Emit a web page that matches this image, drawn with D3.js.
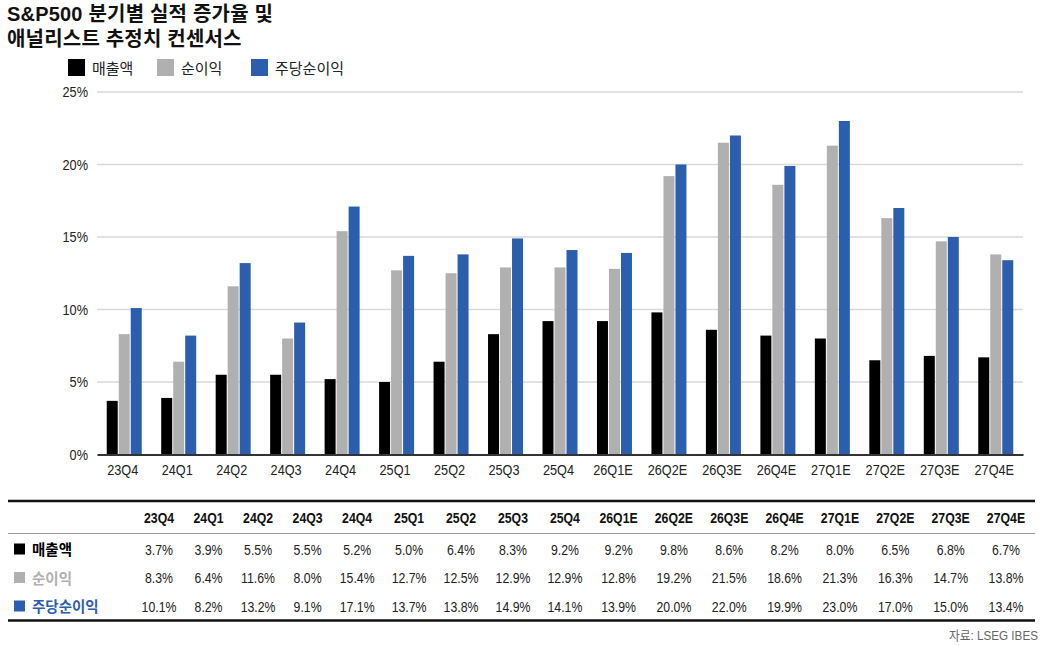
<!DOCTYPE html>
<html><head><meta charset="utf-8">
<script src="https://cdn.jsdelivr.net/npm/d3@7"></script>
<style>
body{margin:0;background:#fff;}
svg text{font-family:"Liberation Sans","Noto Sans CJK KR",sans-serif;}
</style></head>
<body><svg id="c" width="1044" height="645"></svg>
<script>
const titleLines = ["S&P500 분기별 실적 증가율 및", "애널리스트 추정치 컨센서스"];
const categories = ["23Q4","24Q1","24Q2","24Q3","24Q4","25Q1","25Q2","25Q3","25Q4","26Q1E","26Q2E","26Q3E","26Q4E","27Q1E","27Q2E","27Q3E","27Q4E"];
const seriesNames = ["매출액","순이익","주당순이익"];
const seriesColors = ["#000000","#b0b0b0","#2b5ead"];
const revenue = [3.7,3.9,5.5,5.5,5.2,5.0,6.4,8.3,9.2,9.2,9.8,8.6,8.2,8.0,6.5,6.8,6.7];
const netIncome = [8.3,6.4,11.6,8.0,15.4,12.7,12.5,12.9,12.9,12.8,19.2,21.5,18.6,21.3,16.3,14.7,13.8];
const eps = [10.1,8.2,13.2,9.1,17.1,13.7,13.8,14.9,14.1,13.9,20.0,22.0,19.9,23.0,17.0,15.0,13.4];
const yTicks = [0,5,10,15,20,25];
const sourceText = "자료: LSEG IBES";

const series = [revenue, netIncome, eps];
const svg = d3.select("#c");
const K = 0.82; // horizontal condensing of latin text

// condense text horizontally around its anchor point
function condense(sel, k){
  sel.each(function(){
    const t = d3.select(this);
    const x = +t.attr("x") || 0, y = +t.attr("y") || 0;
    t.attr("x",0).attr("y",0).attr("transform",`translate(${x},${y}) scale(${k},1)`);
  });
}

// Title
svg.append("g").selectAll("text").data(titleLines).join("text")
  .attr("x", 7).attr("y", (d,i)=>21 + i*25)
  .attr("font-size", 20).attr("font-weight", "bold").attr("fill", "#111")
  .attr("letter-spacing", 0.2)
  .text(d=>d);

// Legend
const legendX = [68, 157, 251];
const lg = svg.append("g").selectAll("g").data(seriesNames).join("g")
  .attr("transform", (d,i)=>`translate(${legendX[i]},59)`);
lg.append("rect").attr("width",17).attr("height",17).attr("fill",(d,i)=>seriesColors[i]);
lg.append("text").attr("x",24).attr("y",14.5).attr("font-size",15).attr("fill","#222").text(d=>d);

// Scales
const x = d3.scaleBand().domain(categories).range([97,1023]).paddingInner(0).paddingOuter(0);
const y = d3.scaleLinear().domain([0,25]).range([454.5,92]);
const barW = 11, barGap = 1;
const groupW = 3*barW + 2*barGap;

// Grid
svg.append("g").selectAll("line").data(yTicks.filter(t=>t>0)).join("line")
  .attr("x1",97).attr("x2",1023).attr("y1",d=>y(d)).attr("y2",d=>y(d))
  .attr("stroke","#d9d9d9").attr("stroke-width",1.5);

// Y axis labels
const yAxis = d3.axisLeft(y).tickValues(yTicks).tickFormat(d=>d+"%").tickSize(0).tickPadding(9);
const ya = svg.append("g").attr("transform","translate(97,0)").call(yAxis);
ya.select(".domain").remove();
ya.selectAll("text").attr("font-size",14.5).attr("fill","#222").style("font-family",null)
  .attr("transform",`scale(0.88,1)`).attr("x",-9/0.88);

// Bars
const groups = svg.append("g").selectAll("g").data(categories).join("g")
  .attr("transform", d=>`translate(${x(d)+x.bandwidth()/2-groupW/2},0)`);
groups.selectAll("rect").data((d,ci)=>series.map((s,si)=>({v:s[ci],si}))).join("rect")
  .attr("x", d=>d.si*(barW+barGap)).attr("width", barW)
  .attr("y", d=>y(d.v)).attr("height", d=>y(0)-y(d.v))
  .attr("fill", d=>seriesColors[d.si]);

// X axis
const xAxis = d3.axisBottom(x).tickSize(0).tickPadding(10);
const xa = svg.append("g").attr("transform",`translate(0,${y(0)})`).call(xAxis);
xa.select(".domain").attr("stroke","#333").attr("stroke-width",2);
xa.selectAll("text").attr("font-size",15.5).attr("fill","#222").style("font-family",null)
  .attr("transform",`translate(-1.5,0) scale(${K},1)`);

// Table
const tbl = svg.append("g");
const tmp = tbl.append("text").attr("font-size",15);
function tw(s, bold){ tmp.attr("font-weight", bold?"bold":"normal").text(s); return tmp.node().getComputedTextLength()*K; }
const contentW = categories.map((c,i)=>Math.max(tw(c,true), ...series.map(s=>tw(s[i].toFixed(1)+"%",false))));
tmp.remove();
const pad = 17;
let acc = 0; const rawC = contentW.map(w=>{ const c = acc + w/2; acc += w + pad; return c; });
const colX = d3.scaleLinear().domain([rawC[0], rawC[rawC.length-1]]).range([159,1006]);

tbl.append("line").attr("x1",8).attr("x2",1035).attr("y1",501).attr("y2",501).attr("stroke","#111").attr("stroke-width",2.5);
tbl.append("line").attr("x1",8).attr("x2",1035).attr("y1",533.5).attr("y2",533.5).attr("stroke","#999").attr("stroke-width",1.2);
tbl.append("line").attr("x1",8).attr("x2",1035).attr("y1",620.5).attr("y2",620.5).attr("stroke","#111").attr("stroke-width",2.5);

tbl.append("g").selectAll("text").data(categories).join("text")
  .attr("x",(d,i)=>colX(rawC[i])).attr("y",523).attr("text-anchor","middle")
  .attr("font-size",15).attr("font-weight","bold").attr("fill","#111").text(d=>d)
  .call(condense, K);

const rowY = [549, 577.5, 606];
const rowColors = ["#000000","#b0b0b0","#2b5ead"];
const rows = tbl.append("g").selectAll("g").data(series).join("g")
  .attr("transform",(d,i)=>`translate(0,${rowY[i]})`);
rows.append("rect").attr("x",14).attr("y",-5.5).attr("width",11).attr("height",11).attr("fill",(d,i)=>seriesColors[i]);
rows.append("text").attr("x",32).attr("y",6).attr("font-size",14.5).attr("font-weight","bold")
  .attr("fill",(d,i)=>rowColors[i]).text((d,i)=>seriesNames[i]);
rows.selectAll("text.v").data(d=>d).join("text").attr("class","v")
  .attr("x",(d,i)=>colX(rawC[i])).attr("y",5.5).attr("text-anchor","middle")
  .attr("font-size",15).attr("fill","#222").text(d=>d.toFixed(1)+"%")
  .call(condense, K);

svg.append("text").attr("x",1038).attr("y",640).attr("text-anchor","end")
  .attr("font-size",13).attr("fill","#666").text(sourceText)
  .call(condense, 0.9);
</script></body></html>
